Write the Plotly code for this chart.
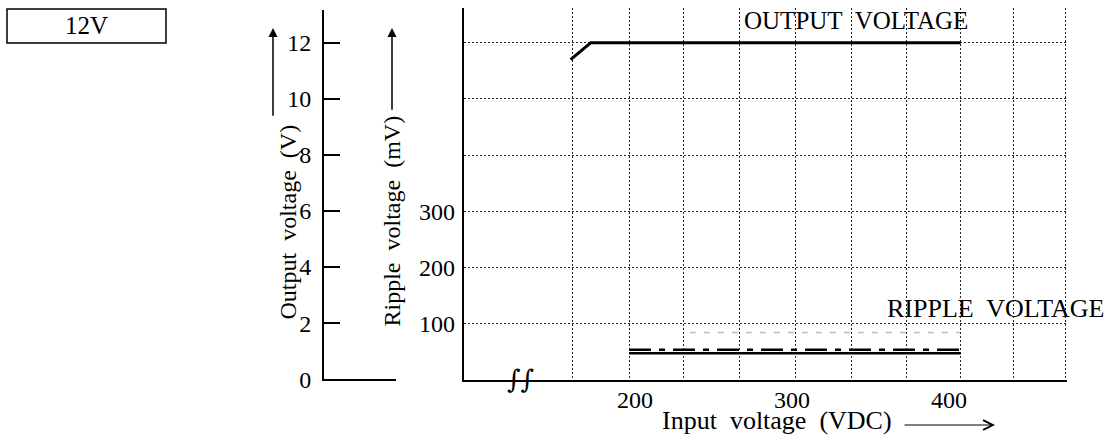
import plotly.graph_objects as go

W, H = 1114, 441
K = 1.028   # vertical correction observed in the rendered page

# ---- data ----
out_vin = [159.0, 171.8, 407.4]          # input voltage (VDC)
out_v = [11.4, 12.0, 12.0]               # output voltage (V)

rip_vin = [196.2, 407.6]                 # input voltage (VDC)
rip_solid_mv = [47, 47]                  # ripple (mV), solid
rip_dashdot_mv = [53, 53]                # ripple (mV), dash-dot
rip_faint_vin = [235.0, 407.0]
rip_faint_mv = [84, 84]                  # ripple (mV), faint dashed

x_ticks = [200, 300, 400]
grid_vdc = [160.5, 196.2, 231.2, 266.9, 302.5, 338.2, 373.2, 407.6, 440.8, 474.5]
out_ticks = [0, 2, 4, 6, 8, 10, 12]
rip_ticks = [100, 200, 300]

FONT = "Liberation Serif"
NB = "\u00a0"


def px(x):
    return x / W


def py(y):
    return 1 - (y * K) / H


fig = go.Figure()

fig.add_trace(go.Scatter(x=out_vin, y=out_v, mode="lines",
                         line=dict(color="black", width=3), xaxis="x", yaxis="y",
                         showlegend=False, hoverinfo="skip"))
fig.add_trace(go.Scatter(x=rip_faint_vin, y=rip_faint_mv, mode="lines",
                         line=dict(color="#bdbdbd", width=1.5, dash="6px,8px"),
                         xaxis="x", yaxis="y2", showlegend=False, hoverinfo="skip"))
fig.add_trace(go.Scatter(x=rip_vin, y=rip_dashdot_mv, mode="lines",
                         line=dict(color="black", width=2.5, dash="22px,8px,6px,8px"),
                         xaxis="x", yaxis="y2", showlegend=False, hoverinfo="skip"))
fig.add_trace(go.Scatter(x=rip_vin, y=rip_solid_mv, mode="lines",
                         line=dict(color="black", width=2.5),
                         xaxis="x", yaxis="y2", showlegend=False, hoverinfo="skip"))
# invisible helpers so the grid axis and the left scale subplot render
fig.add_trace(go.Scatter(x=[None], y=[None], xaxis="x2", yaxis="y",
                         showlegend=False, hoverinfo="skip"))
fig.add_trace(go.Scatter(x=[None], y=[None], xaxis="x3", yaxis="y3",
                         showlegend=False, hoverinfo="skip"))

xr = [91.1, 475.2]
yr = [0, 13.24]
tickfont = dict(family=FONT, size=24, color="black")
griddash = "2px,2px"

fig.update_layout(
    width=W, height=H,
    margin=dict(l=0, r=0, t=0, b=0),
    paper_bgcolor="white", plot_bgcolor="rgba(0,0,0,0)",
    font=dict(family=FONT, color="black"),
    xaxis=dict(domain=[px(464), px(1067)], range=xr, anchor="y",
               showline=True, linewidth=2, linecolor="black",
               showgrid=False, zeroline=False, tickvals=x_ticks, ticks="",
               tickfont=tickfont, ticklabelstandoff=-2),
    xaxis2=dict(overlaying="x", range=xr, anchor="y", showline=False,
                showgrid=True, gridcolor="#222", gridwidth=1.4, griddash=griddash,
                tickvals=grid_vdc, showticklabels=False, ticks="", zeroline=False),
    yaxis=dict(domain=[py(380.5), py(8)], range=yr, anchor="x",
               showline=True, linewidth=2, linecolor="black",
               showgrid=True, gridcolor="#222", gridwidth=1.4, griddash=griddash,
               tickvals=[2, 4, 6, 8, 10, 12], showticklabels=False, ticks="",
               zeroline=False),
    yaxis2=dict(overlaying="y", range=[yr[0] * 50, yr[1] * 50], anchor="x",
                side="left", showline=False, showgrid=False, zeroline=False,
                tickvals=rip_ticks, ticks="", tickfont=tickfont,
                ticklabelstandoff=8),
    xaxis3=dict(domain=[px(324), px(396)], range=[0, 1], anchor="y3",
                showline=True, linewidth=2, linecolor="black",
                showgrid=False, zeroline=False, showticklabels=False, ticks=""),
    yaxis3=dict(domain=[py(380), py(10)], range=[0, 13.18], anchor="x3",
                showline=True, linewidth=2, linecolor="black",
                showgrid=False, zeroline=False, tickvals=out_ticks,
                ticks="inside", ticklen=16, tickwidth=2, tickcolor="black",
                tickfont=dict(family=FONT, size=24, color="black"),
                ticklabelstandoff=6),
)

fig.add_shape(type="rect", xref="paper", yref="paper",
              x0=px(7), x1=px(166), y0=py(43), y1=py(9),
              line=dict(color="black", width=1.5))

ann = [
    dict(text="12V", x=px(86), y=py(26), size=25, fam=FONT),
    dict(text="OUTPUT" + NB + " VOLTAGE", x=px(856), y=py(21), size=25, fam=FONT),
    dict(text="RIPPLE" + NB + " VOLTAGE", x=px(996), y=py(309), size=26, fam=FONT),
    dict(text="Input" + NB + " voltage" + NB + " (VDC)", x=px(777), y=py(421), size=26, fam=FONT),
    dict(text="∫∫", x=px(520), y=py(380), size=26, fam="DejaVu Serif"),
]
for a in ann:
    fig.add_annotation(text=a["text"], x=a["x"], y=a["y"], xref="paper", yref="paper",
                       showarrow=False, xanchor="center", yanchor="middle",
                       font=dict(family=a["fam"], size=a["size"], color="black"))

fig.add_annotation(text="Output" + NB + " voltage" + NB + " (V)",
                   x=px(273), y=py(223), xref="paper", yref="paper",
                   showarrow=False, textangle=-90,
                   font=dict(family=FONT, size=24, color="black"))
fig.add_annotation(text="Ripple" + NB + " voltage" + NB + " (mV)",
                   x=px(392), y=py(222), xref="paper", yref="paper",
                   showarrow=False, textangle=-90,
                   font=dict(family=FONT, size=24, color="black"))

# arrows
fig.add_annotation(text="", x=px(273), y=py(28), xref="paper", yref="paper",
                   showarrow=True, ax=0, ay=87 * K, arrowhead=2, arrowsize=1.2,
                   arrowwidth=1.5, arrowcolor="black")
fig.add_annotation(text="", x=px(392), y=py(28), xref="paper", yref="paper",
                   showarrow=True, ax=0, ay=81 * K, arrowhead=2, arrowsize=1.2,
                   arrowwidth=1.5, arrowcolor="black")
fig.add_annotation(text="", x=px(995), y=py(426), xref="paper", yref="paper",
                   showarrow=True, ax=-92, ay=0, arrowhead=5, arrowsize=1.6,
                   arrowwidth=1.2, arrowcolor="black")

fig.write_html(
    "out.html",
    config={"displayModeBar": False, "responsive": False},
    post_script=(
        "document.documentElement.style.cssText="
        "'margin:0;padding:0;overflow:hidden;height:441px';"
        "document.body.style.cssText="
        "'margin:0;padding:0;overflow:hidden;height:441px;line-height:0';"
    ),
)
